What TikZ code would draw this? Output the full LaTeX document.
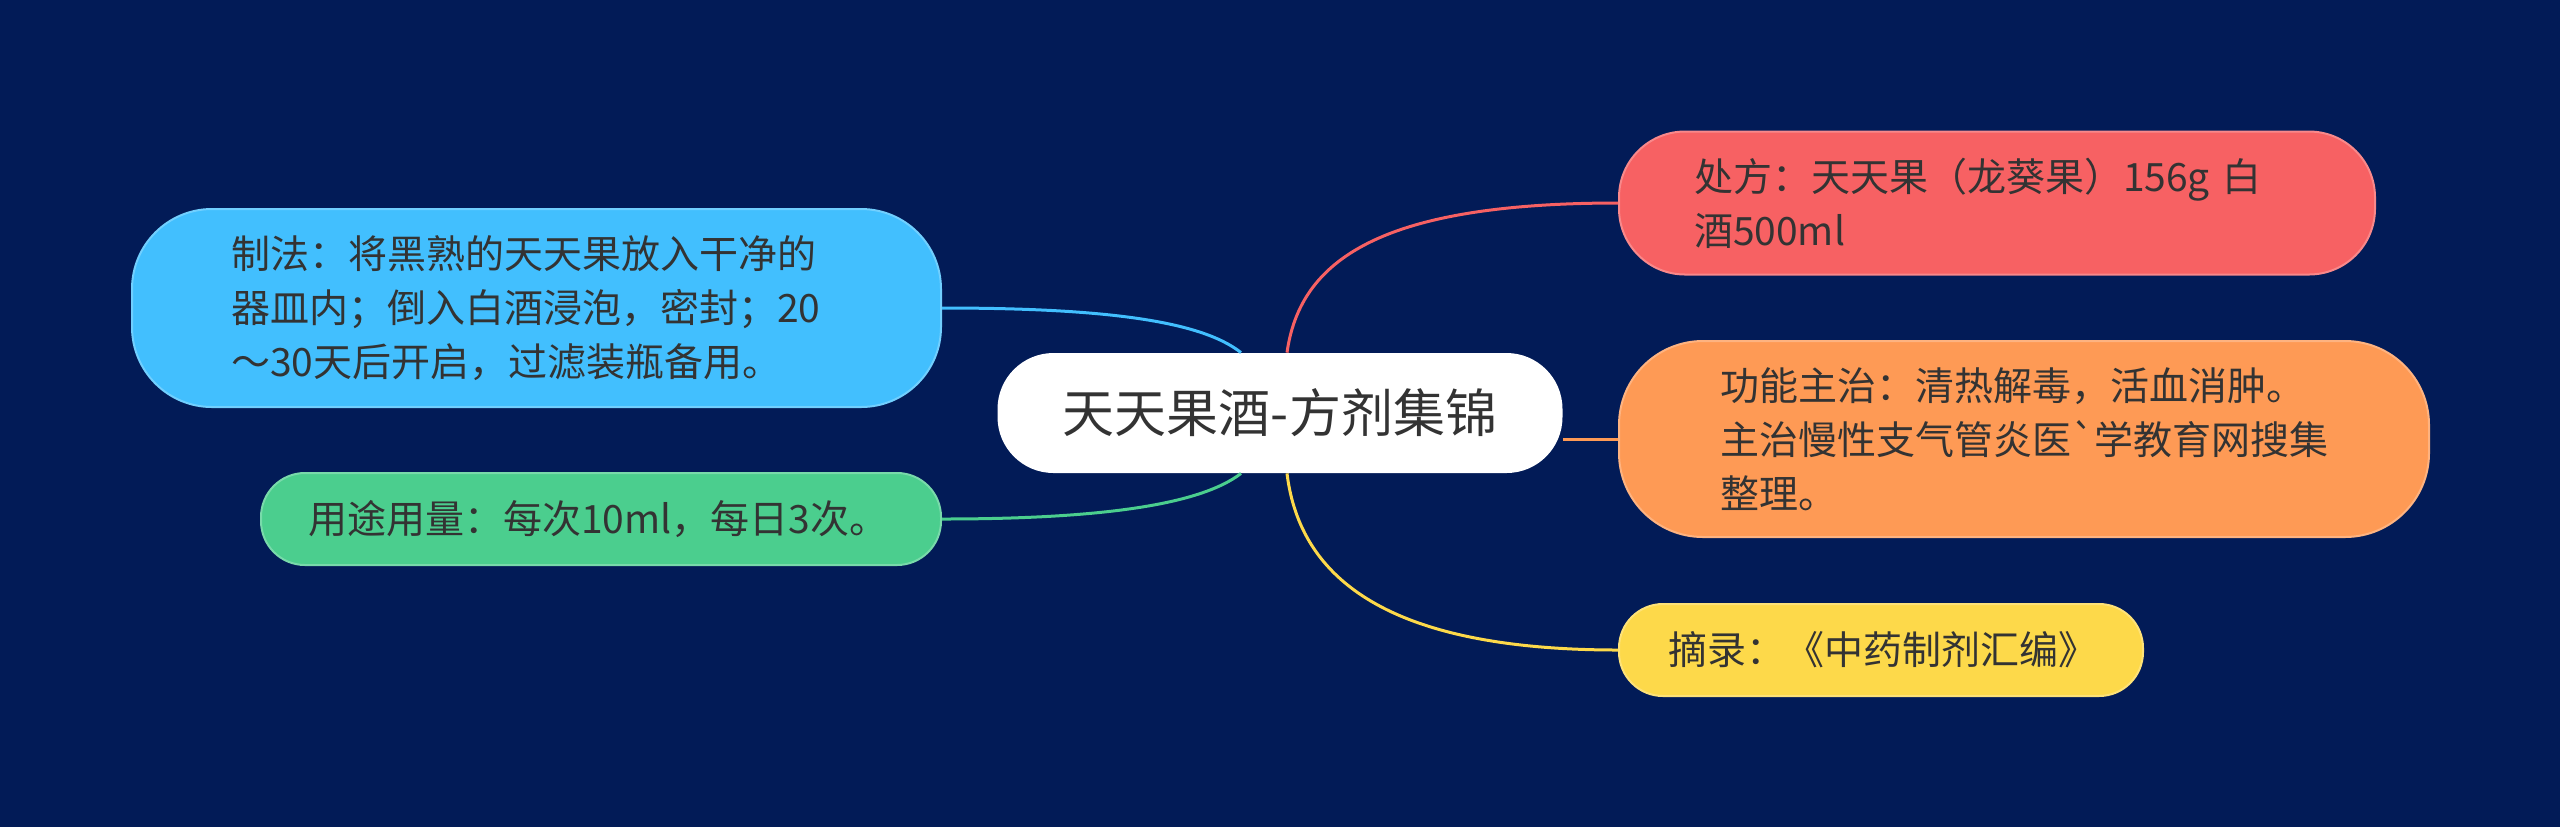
\documentclass[tikz,border=0pt]{standalone}
\usepackage{fontspec}
\setmainfont{Noto Sans CJK SC}[Ligatures=TeXOff]
\usetikzlibrary{positioning}
\definecolor{bgnavy}{HTML}{021B57}
\definecolor{textgray}{HTML}{333333}
\definecolor{skyblue}{HTML}{42BFFE}
\definecolor{mintgreen}{HTML}{4BCE8E}
\definecolor{coral}{HTML}{F76163}
\definecolor{apricot}{HTML}{FE9A55}
\definecolor{sunyellow}{HTML}{FDD94A}
\tikzstyle{root} = [rectangle, rounded corners=28pt, minimum width=282.5pt, minimum height=60pt, fill=white, text=textgray, font=\fontsize{26pt}{32pt}\selectfont]
\tikzstyle{branch} = [rectangle, line width=1pt, text=textgray, align=left, inner ysep=0pt, font=\fontsize{19.5pt}{27pt}\selectfont]
\tikzstyle{link} = [line width=1.5pt]

\begin{document}
\begin{tikzpicture}[x=0.5pt, y=-0.5pt]

  % background
  \fill [bgnavy] (0,0) rectangle (2560,827);

  % We start by placing the topics
  \node (wine) [root] at (1280,413) {天天果酒-方剂集锦};

  \node (method) [branch, anchor=west, fill=skyblue, draw=skyblue!75!white, rounded corners=40pt, minimum height=99pt, inner xsep=49.5pt, text width=305.5pt] at (131,308) {制法：将黑熟的天天果放入干净的\\器皿内；倒入白酒浸泡，密封；20\\～30天后开启，过滤装瓶备用。};
  \node (dosage) [branch, anchor=west, fill=mintgreen, draw=mintgreen!75!white, rounded corners=22pt, minimum height=46pt, inner xsep=23.5pt, text width=293pt] at (260,519) {用途用量：每次10ml，每日3次。};
  \node (recipe) [branch, anchor=west, fill=coral, draw=coral!75!white, rounded corners=33pt, minimum height=71.5pt, inner xsep=37.5pt, text width=303pt] at (1618,203) {处方：天天果（龙葵果）156g~白\\酒500ml};
  \node (effect) [branch, anchor=west, fill=apricot, draw=apricot!75!white, rounded corners=42pt, minimum height=98pt, inner xsep=50.5pt, text width=304pt] at (1618,439) {功能主治：清热解毒，活血消肿。\\主治慢性支气管炎医`学教育网搜集\\整理。};
  \node (source) [branch, anchor=west, fill=sunyellow, draw=sunyellow!75!white, rounded corners=22pt, minimum height=46pt, inner xsep=24.5pt, text width=213pt] at (1618,650) {摘录：《中药制剂汇编》};

  % Draw the connections between topics
  \draw [link, skyblue] ([xshift=-19.5pt]wine.north) .. controls (1200,320) and (1100,308) .. (method.east);
  \draw [link, mintgreen] ([xshift=-19.5pt]wine.south) .. controls (1200,505) and (1100,519) .. (dosage.east);
  \draw [link, coral] ([xshift=3.5pt]wine.north) .. controls (1300,260) and (1380,203) .. (recipe.west);
  \draw [link, apricot] (wine.east |- effect.west) -- (effect.west);
  \draw [link, sunyellow] ([xshift=3.5pt]wine.south) .. controls (1300,580) and (1390,650) .. (source.west);

\end{tikzpicture}
\end{document}
